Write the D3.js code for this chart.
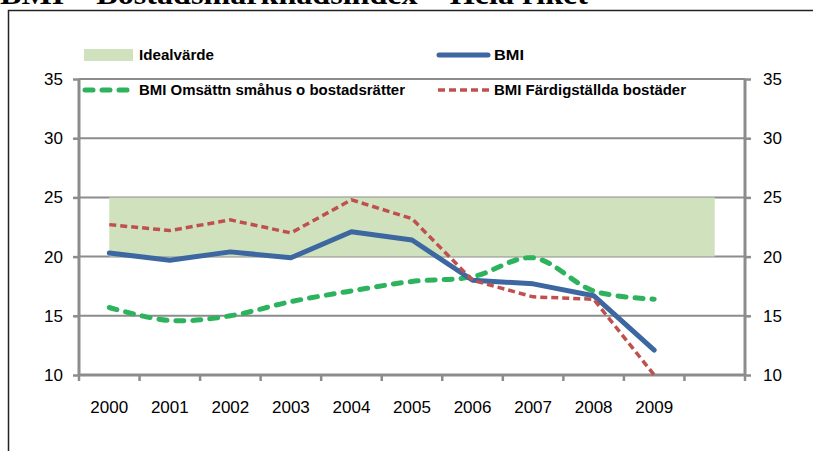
<!doctype html>
<html lang="sv">
<head>
  <meta charset="utf-8">
  <title>BMI – Bostadsmarknadsindex – Hela riket</title>
  <script src="https://cdn.jsdelivr.net/npm/d3@7"></script>
  <style type="text/css">
    body { margin: 0; background: #fff; }
    svg { display: block; font-family: "Liberation Sans", Arial, sans-serif; }
    .tick text { font-size: 17px; fill: #000; }
    .legend text { font-size: 14.5px; font-weight: bold; fill: #000; }
  </style>
</head>
<body>
<div id="chart"></div>
<script type="text/javascript">

  // Chart data
  var years = ["2000", "2001", "2002", "2003", "2004", "2005", "2006", "2007", "2008", "2009", ""];
  var bmi = [20.3, 19.7, 20.4, 19.9, 22.1, 21.4, 18.0, 17.7, 16.7, 12.1];
  var omsattn = [15.7, 14.6, 15.0, 16.2, 17.1, 17.9, 18.3, 19.9, 17.1, 16.4];
  var fardig = [22.7, 22.2, 23.1, 22.0, 24.8, 23.2, 18.0, 16.6, 16.4, 9.9];
  var idealLow = [20, 20, 20, 20, 20, 20, 20, 20, 20, 20, 20];
  var idealHigh = [25, 25, 25, 25, 25, 25, 25, 25, 25, 25, 25];
  var yTicks = [10, 15, 20, 25, 30, 35];

  var width = 813, height = 451;
  var plotLeft = 79, plotRight = 745, plotTop = 79, plotBottom = 375;

  var svg = d3.select("#chart")
    .append("svg")
    .attr("width", width)
    .attr("height", height);

  // Page title, cut off by the top edge
  svg.append("text")
    .attr("x", 0)
    .attr("y", 4)
    .attr("font-family", "Liberation Serif, serif")
    .attr("font-weight", "bold")
    .attr("font-size", 30)
    .attr("textLength", 588)
    .attr("lengthAdjust", "spacingAndGlyphs")
    .text("BMI – Bostadsmarknadsindex – Hela riket");

  // Frame around the chart
  svg.append("path")
    .attr("d", "M8.5," + height + "V10.5H" + width)
    .attr("fill", "none")
    .attr("stroke", "#222")
    .attr("stroke-width", 1.5);

  // Scales
  var x = d3.scaleBand()
    .domain(years.map(function(d, i) { return i; }))
    .range([plotLeft, plotRight])
    .paddingInner(0)
    .paddingOuter(0);
  var cx = function(i) { return x(i) + x.bandwidth() / 2; };
  var y = d3.scaleLinear()
    .domain([10, 35])
    .range([plotBottom, plotTop]);

  // Gridlines
  svg.selectAll(".grid")
    .data(yTicks.filter(function(d) { return d > 10; }))
    .enter()
    .append("line")
    .attr("class", "grid")
    .attr("x1", plotLeft)
    .attr("x2", plotRight)
    .attr("y1", function(d) { return y(d); })
    .attr("y2", function(d) { return y(d); })
    .attr("stroke", "#8c8c8c")
    .attr("stroke-width", 2);

  // Ideal band
  var band = d3.area()
    .x(function(d, i) { return cx(i); })
    .y0(function(d, i) { return y(idealLow[i]); })
    .y1(function(d) { return y(d); });
  svg.append("path")
    .datum(idealHigh)
    .attr("d", band)
    .attr("fill", "#cfe2bd");

  // Axes
  var yLeft = svg.append("g")
    .attr("transform", "translate(" + plotLeft + ",0)")
    .call(d3.axisLeft(y).tickValues(yTicks).tickSize(6).tickPadding(10));
  var yRight = svg.append("g")
    .attr("transform", "translate(" + plotRight + ",0)")
    .call(d3.axisRight(y).tickValues(yTicks).tickSize(6).tickPadding(12));
  var xAxis = svg.append("g")
    .attr("transform", "translate(0," + plotBottom + ")")
    .call(d3.axisBottom(x).tickSize(0).tickPadding(25.5).tickFormat(function(i) { return years[i]; }));

  // Category boundary ticks on the bottom axis
  xAxis.selectAll(".sep")
    .data(d3.range(years.length + 1))
    .enter()
    .append("line")
    .attr("class", "sep")
    .attr("x1", function(i) { return plotLeft + i * x.bandwidth(); })
    .attr("x2", function(i) { return plotLeft + i * x.bandwidth(); })
    .attr("y1", 0)
    .attr("y2", 6)
    .attr("stroke", "#8c8c8c")
    .attr("stroke-width", 2.5);

  [yLeft, yRight, xAxis].forEach(function(g) {
    g.select(".domain").attr("stroke", "#8c8c8c").attr("stroke-width", 3);
    g.selectAll(".tick line").attr("stroke", "#8c8c8c").attr("stroke-width", 2.5);
    g.selectAll(".tick text").attr("font-family", "Liberation Sans, Arial, sans-serif");
  });
  xAxis.select(".domain").attr("d", "M" + plotLeft + ",0H" + plotRight);
  yLeft.select(".domain").attr("d", "M0," + plotTop + "V" + plotBottom);
  yRight.select(".domain").attr("d", "M0," + plotTop + "V" + plotBottom);

  // Series lines
  var lineLinear = d3.line()
    .x(function(d, i) { return cx(i); })
    .y(function(d) { return y(d); });
  var lineSmooth = d3.line()
    .x(function(d, i) { return cx(i); })
    .y(function(d) { return y(d); })
    .curve(d3.curveCatmullRom.alpha(0.5));

  svg.append("path")
    .datum(omsattn)
    .attr("d", lineSmooth)
    .attr("fill", "none")
    .attr("stroke", "#2db35d")
    .attr("stroke-width", 5)
    .attr("stroke-linecap", "round")
    .attr("stroke-dasharray", "8,9");

  svg.append("path")
    .datum(bmi)
    .attr("d", lineLinear)
    .attr("fill", "none")
    .attr("stroke", "#3c67a0")
    .attr("stroke-width", 5)
    .attr("stroke-linecap", "round")
    .attr("stroke-linejoin", "round");

  svg.append("path")
    .datum(fardig.map(function(d) { return Math.max(d, 10); }))
    .attr("d", lineLinear)
    .attr("fill", "none")
    .attr("stroke", "#c0504d")
    .attr("stroke-width", 3.5)
    .attr("stroke-dasharray", "7,4");

  // Legend
  var legend = svg.append("g").attr("class", "legend");
  legend.append("rect")
    .attr("x", 84).attr("y", 49)
    .attr("width", 49).attr("height", 12)
    .attr("fill", "#cfe2bd");
  legend.append("text").attr("x", 139).attr("y", 60)
    .attr("textLength", 75).attr("lengthAdjust", "spacingAndGlyphs")
    .text("Idealvärde");

  legend.append("line")
    .attr("x1", 439).attr("x2", 488).attr("y1", 55).attr("y2", 55)
    .attr("stroke", "#3c67a0").attr("stroke-width", 5).attr("stroke-linecap", "round");
  legend.append("text").attr("x", 494).attr("y", 60)
    .attr("textLength", 30).attr("lengthAdjust", "spacingAndGlyphs")
    .text("BMI");

  legend.append("line")
    .attr("x1", 85).attr("x2", 130).attr("y1", 90).attr("y2", 90)
    .attr("stroke", "#2db35d").attr("stroke-width", 5).attr("stroke-linecap", "round")
    .attr("stroke-dasharray", "8,9");
  legend.append("text").attr("x", 139).attr("y", 95)
    .attr("textLength", 266).attr("lengthAdjust", "spacingAndGlyphs")
    .text("BMI Omsättn småhus o bostadsrätter");

  legend.append("line")
    .attr("x1", 438).attr("x2", 489).attr("y1", 90).attr("y2", 90)
    .attr("stroke", "#c0504d").attr("stroke-width", 3.5)
    .attr("stroke-dasharray", "7,4");
  legend.append("text").attr("x", 494).attr("y", 95)
    .attr("textLength", 192).attr("lengthAdjust", "spacingAndGlyphs")
    .text("BMI Färdigställda bostäder");

</script>
</body>
</html>
